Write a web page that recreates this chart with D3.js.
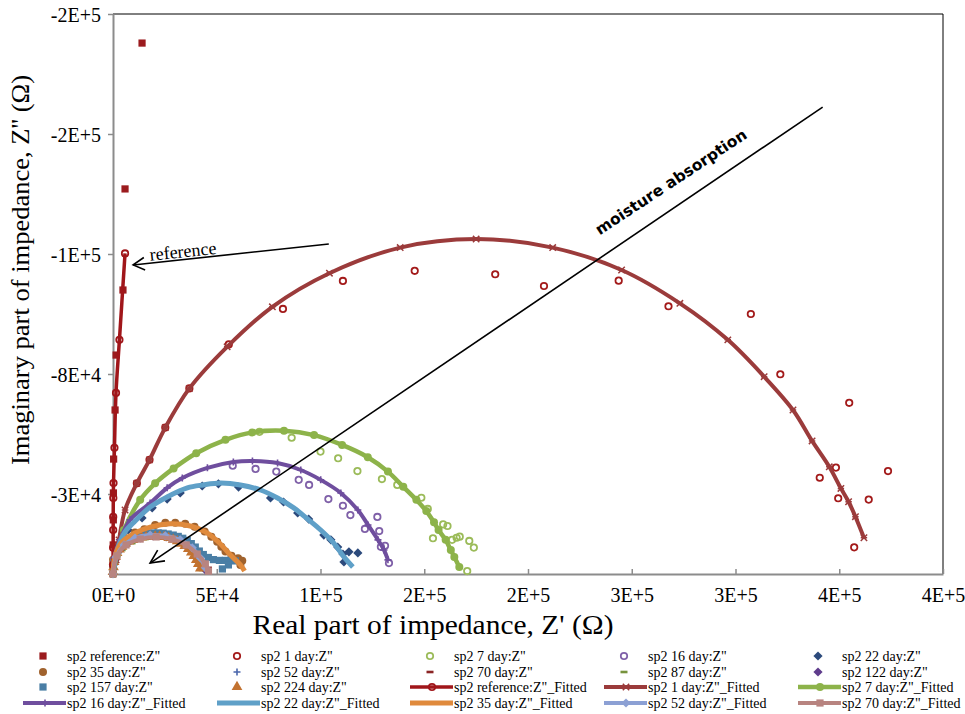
<!DOCTYPE html>
<html><head><meta charset="utf-8">
<script src="https://cdn.jsdelivr.net/npm/d3@7"></script>
<style>body{margin:0;background:#fff}svg{display:block}</style>
</head><body>
<svg id="chart" width="965" height="714"></svg>
<script>
// ---------- axis ticks ----------
const xTicks = [0,50000,100000,150000,200000,250000,300000,350000,400000];
const xTickLabels = ["0E+0","5E+4","1E+5","2E+5","2E+5","3E+5","3E+5","4E+5","4E+5"];
const yTicks = [-30000,-75000,-120000,-165000,-210000];
const yTickLabels = ["-3E+4","-8E+4","-1E+5","-2E+5","-2E+5"];

// ---------- measured data (Z', Z'') ----------
const refZ = [[14000,-199100],[5800,-144400],[4800,-106500],[1500,-82100],[1000,-61500],[300,-43100],[200,-30400],[150,-20300],[100,-10900],[50,-3400]];
const day1Z = [[11500,-34000],[17600,-42800],[25200,-54900],[36800,-69600],[55800,-86100],[81900,-99400],[110800,-109900],[145400,-113700],[184200,-112400],[207700,-108000],[243700,-110000],[267700,-100400],[307400,-97500],[321600,-74900],[354800,-64200],[340600,-36100],[348400,-39900],[373500,-38600],[349500,-28400],[364200,-27900],[357200,-10000]];
const day7Z = [[70600,-53300],[86100,-51100],[100000,-45900],[108500,-43400],[117800,-38600],[129600,-35600],[137000,-33400],[148600,-28600],[151700,-24400],[159100,-18600],[161200,-18000],[154200,-13400],[163400,-12800],[165600,-13600],[167100,-14000],[171700,-12400],[173900,-9900],[170700,-1100]];
const day16Z = [[57700,-40600],[68700,-39400],[78700,-38400],[89500,-35300],[94500,-33400],[103800,-28100],[110800,-25600],[114400,-22100],[121400,-16900],[127400,-21400],[128300,-16100],[129100,-10200],[131100,-10600],[133000,-4100]];
const day22Z = [[3400,-10900],[7300,-16500],[14000,-21000],[18900,-24800],[26100,-28100],[32400,-30400],[43000,-33000],[50800,-33800],[60500,-32600],[75900,-28500],[82200,-27000],[89000,-22900],[94300,-20600],[101600,-14600],[105000,-12800],[108300,-10100],[110800,-7500],[113700,-8300],[118000,-7900],[111300,-4500]];
const day35Z = [[0,-5300],[2400,-10200],[5800,-13500],[10600,-15600],[15100,-16800],[20300,-18400],[25200,-19200],[30000,-19200],[34800,-18800],[39300,-17700],[44200,-15900],[47400,-14000],[50200,-12100],[52200,-10200],[54200,-8400],[57100,-6800],[60300,-5900],[62300,-5000],[61400,-3400]];
const day52Z = [[500,-3400],[2400,-7900],[5800,-11300],[10200,-13100],[15500,-14300],[20800,-14400],[26100,-14100],[31000,-13100],[35300,-11600],[38700,-9400],[41600,-6800],[44000,-4100],[45500,-1900]];
const day70Z = [[1000,-5300],[3900,-9400],[8200,-12000],[14000,-13500],[20300,-13900],[26600,-13300],[32400,-12000],[37200,-9800],[41100,-7100],[44000,-4500],[46000,-2300]];
const day87Z = [[1000,-4500],[4400,-9000],[9200,-11600],[15500,-13100],[22700,-13500],[29000,-12800],[34800,-10900],[39200,-7900],[41600,-4500],[43000,-1500]];
const day122Z = [[1000,-5300],[3400,-9000],[7300,-11600],[13100,-13500],[19300,-14300],[25600,-13900],[31400,-12600],[36300,-10500],[40100,-7500],[43000,-4100],[44500,-1500]];
const day157Z = [[0,-2250],[480,-4900],[1450,-7100],[2660,-9200],[4110,-10900],[5800,-12200],[7740,-13300],[9920,-14100],[12090,-14600],[14510,-15000],[16930,-15300],[19350,-15400],[21760,-15400],[24180,-15300],[26600,-15000],[29020,-14600],[31440,-14100],[33620,-13400],[35790,-12600],[37730,-11400],[39660,-10100],[41600,-8600],[43530,-7300],[45950,-6200],[48370,-5400],[51270,-5100],[54170,-5100],[57070,-5250],[59000,-4900],[55620,-3400],[52720,-1900]];
const day224Z = [[0,-750],[240,-2600],[480,-4500],[1210,-6400],[1930,-7900],[3140,-9200],[4350,-10300],[6050,-11400],[7740,-12200],[9670,-12750],[11610,-13300],[13790,-13700],[15960,-13900],[18140,-14100],[20320,-14100],[22490,-14100],[24670,-13900],[26850,-13500],[29020,-12900],[30960,-12300],[32890,-11400],[34580,-10500],[36280,-9400],[37730,-8100],[38940,-6750],[40150,-5250],[41110,-3750],[42080,-2100]];

// ---------- fitted data ----------
const refFit = [[0,0],[20,-3400],[50,-9800],[80,-16500],[100,-21400],[150,-28500],[250,-34100],[700,-47300],[1450,-67900],[3100,-87800],[5800,-120200]];
const day1Fit = [[0,0],[1500,-5300],[2900,-12800],[5800,-24000],[11500,-34000],[17600,-42800],[25200,-54900],[36800,-69600],[55000,-85200],[76800,-100200],[104300,-112800],[138400,-122400],[175000,-125600],[211900,-122400],[245100,-114000],[273200,-101500],[296300,-87800],[313800,-74000],[327700,-61500],[336900,-49900],[345200,-40200],[350800,-32100],[354500,-27100],[357800,-21500],[361900,-13600]];
const day7Fit = [[0,0],[1900,-7100],[5300,-16500],[13100,-27800],[20300,-34000],[29200,-39600],[40100,-45300],[54200,-50300],[67100,-53100],[82400,-53700],[96900,-52100],[110400,-48400],[122800,-43800],[132500,-38400],[139900,-32700],[146200,-27800],[151000,-23600],[154700,-19400],[156900,-16500],[160300,-12800],[162800,-9000],[164500,-6400],[166900,-2600]];
const day16Fit = [[0,0],[500,-6000],[3400,-12800],[8200,-20300],[17900,-26600],[26100,-32300],[33400,-36000],[45500,-39800],[58000,-42000],[67200,-42400],[79300,-41600],[90500,-39000],[100100,-35300],[109800,-30400],[118000,-24000],[122900,-18400],[127700,-12800],[130600,-9000],[132500,-5300]];
const day22Fit = [[0,0],[2400,-9800],[5800,-15800],[9700,-19100],[17900,-25100],[26100,-28900],[35800,-32300],[43500,-33400],[51800,-34100],[61400,-33400],[71100,-31500],[79300,-28500],[87100,-24800],[94300,-20300],[100100,-16500],[106400,-11600],[111300,-6400],[115600,-2600]];
const day35Fit = [[0,0],[1000,-6800],[4400,-12000],[10600,-15400],[17900,-17600],[27600,-18800],[37200,-18000],[44500,-15800],[50800,-12000],[56600,-7100],[61400,-3400],[63400,-1100]];
const day52Fit = [[0,0],[1500,-6400],[5300,-10900],[10600,-13500],[17900,-14600],[25200,-14300],[32400,-12800],[38200,-9800],[42100,-6000],[44500,-2300]];
const day70Fit = [[0,0],[1900,-6800],[6300,-10900],[13100,-13100],[20800,-13900],[28500,-13100],[35300,-10900],[40600,-7500],[44500,-3800],[46000,-1100]];

// ---------- series table (names, data, style) ----------
const scatterSeries = [
  {name:'sp2 reference:Z"', data:refZ,   mark:'square',  color:'#9B1B1E'},
  {name:'sp2 1 day:Z"',     data:day1Z,  mark:'ocircle', color:'#A31A1A'},
  {name:'sp2 7 day:Z"',     data:day7Z,  mark:'ocircle', color:'#9BBB59'},
  {name:'sp2 16 day:Z"',    data:day16Z, mark:'ocircle', color:'#7F60A8'},
  {name:'sp2 22 day:Z"',    data:day22Z, mark:'diamond', color:'#2C4A7C'},
  {name:'sp2 35 day:Z"',    data:day35Z, mark:'circle',  color:'#A0622D'},
  {name:'sp2 52 day:Z"',    data:day52Z, mark:'plus',    color:'#4A66AC'},
  {name:'sp2 70 day:Z"',    data:day70Z, mark:'dash',    color:'#8B2525'},
  {name:'sp2 87 day:Z"',    data:day87Z, mark:'dash',    color:'#77933C'},
  {name:'sp2 122 day:Z"',   data:day122Z,mark:'diamond', color:'#5F3C8C'},
  {name:'sp2 157 day:Z"',   data:day157Z,mark:'square',  color:'#4A7EA5'},
  {name:'sp2 224 day:Z"',   data:day224Z,mark:'triangle',color:'#C27230'}
];
const fitSeries = [
  {name:'sp2 reference:Z"_Fitted', data:refFit,  mark:'ocircle', color:'#A0161A', w:3.5},
  {name:'sp2 1 day:Z"_Fitted',     data:day1Fit, mark:'xstar',   color:'#9B3B3B', w:4},
  {name:'sp2 7 day:Z"_Fitted',     data:day7Fit, mark:'circle',  color:'#8DB34A', w:4.5},
  {name:'sp2 16 day:Z"_Fitted',    data:day16Fit,mark:'plus',    color:'#6F4E9E', w:4},
  {name:'sp2 22 day:Z"_Fitted',    data:day22Fit,mark:null,      color:'#5FA0C8', w:5},
  {name:'sp2 35 day:Z"_Fitted',    data:day35Fit,mark:null,      color:'#E08A3C', w:5},
  {name:'sp2 52 day:Z"_Fitted',    data:day52Fit,mark:'diamond', color:'#8CA0D4', w:4},
  {name:'sp2 70 day:Z"_Fitted',    data:day70Fit,mark:'square',  color:'#B88480', w:4}
];

// ---------- scales ----------
const svg = d3.select('#chart');
const x = d3.scaleLinear().domain([0,400000]).range([113,943]);
const y = d3.scaleLinear().domain([0,-210000]).range([574,14]);
const SERIF = '"Liberation Serif","Times New Roman",serif';

function drawMarker(g, kind, color, scale=1){
  if(kind==='square'){ g.append('rect').attr('x',-3.6*scale).attr('y',-3.6*scale).attr('width',7.2*scale).attr('height',7.2*scale).attr('fill',color); }
  else if(kind==='ocircle'){ g.append('circle').attr('r',3.2*scale).attr('fill','none').attr('stroke',color).attr('stroke-width',1.8); }
  else if(kind==='circle'){ g.append('circle').attr('r',4*scale).attr('fill',color); }
  else if(kind==='diamond'){ const s=4.6*scale; g.append('path').attr('d',`M0,${-s}L${s},0L0,${s}L${-s},0Z`).attr('fill',color); }
  else if(kind==='triangle'){ g.append('path').attr('d',d3.symbol(d3.symbolTriangle, 50*scale*scale)()).attr('fill',color); }
  else if(kind==='plus'){ const s=3.5*scale; g.append('path').attr('d',`M${-s},0H${s}M0,${-s}V${s}`).attr('stroke',color).attr('stroke-width',1.6); }
  else if(kind==='dash'){ g.append('rect').attr('x',-3.5*scale).attr('y',-1.3).attr('width',7*scale).attr('height',2.6).attr('fill',color); }
  else if(kind==='xstar'){ const s=3.2*scale; g.append('path').attr('d',`M${-s},${-s}L${s},${s}M${-s},${s}L${s},${-s}M${-s},0H${s}`).attr('stroke',color).attr('stroke-width',1.5); }
}

// ---------- frame ----------
svg.append('path').attr('d',`M${x(0)},${y(-210000)}H${x(400000)}V${y(0)}`).attr('fill','none').attr('stroke','#000').attr('stroke-width',1);

// ---------- axes ----------
const xAxis = svg.append('g').attr('transform',`translate(0,${y(0)})`)
  .call(d3.axisBottom(x).tickValues(xTicks).tickFormat((d,i)=>xTickLabels[i]).tickSizeInner(-5).tickSizeOuter(0).tickPadding(14));
const yAxis = svg.append('g').attr('transform',`translate(${x(0)},0)`)
  .call(d3.axisLeft(y).tickValues(yTicks).tickFormat((d,i)=>yTickLabels[i]).tickSizeInner(5).tickSizeOuter(0).tickPadding(7));
[xAxis,yAxis].forEach(a=>{
  a.select('.domain').attr('stroke','#8C8C8C').attr('stroke-width',2);
  a.selectAll('.tick line').attr('stroke','#8C8C8C').attr('stroke-width',1.5);
  a.selectAll('.tick text').attr('font-family',SERIF).attr('font-size',20).attr('fill','#000');
});
yAxis.selectAll('.tick text').attr('dy','0.35em');

// axis titles
svg.append('text').attr('x',433).attr('y',634).attr('text-anchor','middle')
  .attr('font-family',SERIF).attr('font-size',27).attr('textLength',361).attr('lengthAdjust','spacingAndGlyphs')
  .text("Real part of impedance, Z' (Ω)");
svg.append('text').attr('transform','translate(29,270) rotate(-90)').attr('text-anchor','middle')
  .attr('font-family',SERIF).attr('font-size',26).attr('textLength',390).attr('lengthAdjust','spacingAndGlyphs')
  .text("Imaginary part of impedance, Z'' (Ω)");

// ---------- series ----------
const plot = svg.append('g');
scatterSeries.forEach(s=>{
  const g = plot.append('g');
  s.data.forEach(d=>{ drawMarker(g.append('g').attr('transform',`translate(${x(d[0])},${y(d[1])})`), s.mark, s.color); });
});
const line = d3.line().x(d=>x(d[0])).y(d=>y(d[1])).curve(d3.curveCatmullRom.alpha(0.5));
fitSeries.forEach(s=>{
  const g = plot.append('g');
  g.append('path').attr('d',line(s.data)).attr('fill','none').attr('stroke',s.color).attr('stroke-width',s.w).attr('stroke-linejoin','round');
  if(s.mark) s.data.forEach(d=>{ drawMarker(g.append('g').attr('transform',`translate(${x(d[0])},${y(d[1])})`), s.mark, s.color); });
});

// ---------- annotations (data coordinates) ----------
function arrow(x1,y1,x2,y2,len,ang,w){
  const px1=x(x1), py1=y(y1), px2=x(x2), py2=y(y2);
  svg.append('line').attr('x1',px1).attr('y1',py1).attr('x2',px2).attr('y2',py2).attr('stroke','#000').attr('stroke-width',w);
  const a = Math.atan2(py1-py2, px1-px2);
  const p = [a+ang, a-ang].map(t=>[px2+len*Math.cos(t), py2+len*Math.sin(t)]);
  svg.append('path').attr('d',`M${p[0][0]},${p[0][1]}L${px2},${py2}L${p[1][0]},${p[1][1]}`).attr('fill','none').attr('stroke','#000').attr('stroke-width',w);
}
arrow(104000,-123750, 9700,-115900, 13, 0.5, 1.6);
svg.append('text').attr('transform',`translate(${x(33700)},${y(-121000)}) rotate(-6)`).attr('text-anchor','middle')
  .attr('dominant-baseline','central').attr('font-family',SERIF).attr('font-size',18).text('reference');
arrow(342000,-175100, 17900,-4100, 15, 0.45, 1.6);
svg.append('text').attr('transform',`translate(${x(269000)},${y(-146900)}) rotate(-33.5)`).attr('text-anchor','middle')
  .attr('dominant-baseline','central').attr('font-family','"DejaVu Sans",Verdana,sans-serif').attr('font-weight','bold').attr('font-size',15.5).text('moisture absorption');

// ---------- legend ----------
const legendItems = scatterSeries.map(s=>({...s,type:'scatter'})).concat(fitSeries.map(s=>({...s,type:'fit'})));
const colX = [67,261,454,648,842], rowY = [656,672,687,703];
legendItems.forEach((it,i)=>{
  const cx = colX[i%5], cy = rowY[Math.floor(i/5)];
  const g = svg.append('g');
  if(it.type==='scatter'){
    drawMarker(g.append('g').attr('transform',`translate(${cx-24},${cy})`), it.mark, it.color);
  } else {
    g.append('line').attr('x1',cx-44).attr('x2',cx-1).attr('y1',cy).attr('y2',cy).attr('stroke',it.color).attr('stroke-width',it.w);
    if(it.mark) drawMarker(g.append('g').attr('transform',`translate(${cx-22},${cy})`), it.mark, it.color);
  }
  g.append('text').attr('x',cx).attr('y',cy).attr('dy','0.35em').attr('font-family',SERIF).attr('font-size',14).text(it.name);
});
</script>
</body></html>
